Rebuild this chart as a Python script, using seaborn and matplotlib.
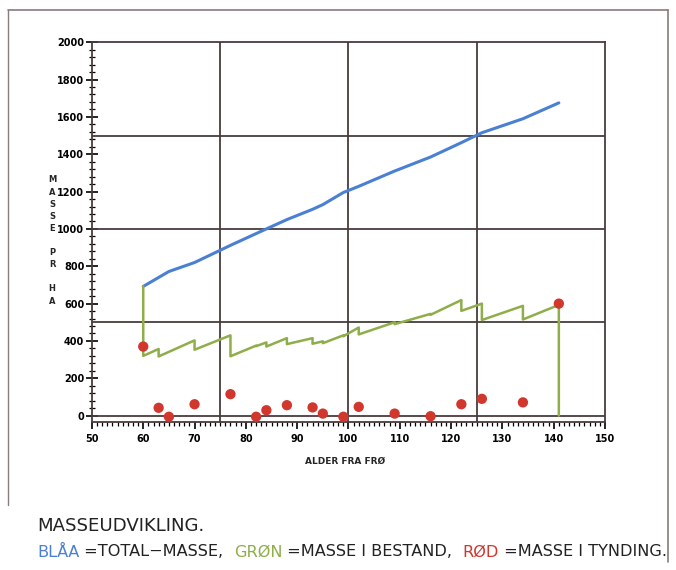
import pandas as pd
import seaborn as sns
import matplotlib.pyplot as plt
from matplotlib.ticker import MultipleLocator

# thinning ages and masses
ages = [60, 63, 65, 70, 77, 82, 84, 88, 93, 95, 99, 102, 109, 116, 122, 126, 134, 141]
total_mass = [692, 740, 772, 820, 912, 975, 1000, 1050, 1105, 1130, 1195, 1228,
              1310, 1385, 1462, 1515, 1590, 1675]
thin_mass = [370, 42, -6, 61, 115, -6, 29, 56, 44, 11, -6, 47, 11, -3, 61, 90, 71, 600]

# standing mass: sawtooth, value before and after each thinning
stand_age = [60, 60, 63, 63, 70, 70, 77, 77, 82, 82, 84, 84, 88, 88, 93, 93, 95, 95,
             99, 99, 102, 102, 109, 109, 116, 116, 122, 122, 126, 126, 134, 134, 141, 141]
stand_mass = [692, 320, 357, 317, 403, 353, 430, 318, 375, 372, 392, 370, 415, 383,
              415, 385, 398, 388, 430, 425, 472, 435, 500, 490, 545, 540, 619, 561,
              600, 512, 588, 515, 593, 0]

x_ticks = list(range(50, 151, 10))
y_ticks = list(range(0, 2001, 200))
grid_x = [75, 100, 125]
grid_y = [0, 500, 1000, 1500]

sns.set_style('white')
plt.rcParams['font.family'] = ['DejaVu Sans']

blue = '#4a80d4'
green = '#8fae4a'
red = '#d2372e'
ink = '#4a3c3c'
dark = '#222222'
W, H = 676, 570

fig = plt.figure(figsize=(6.76, 5.70), dpi=100)
fig.patch.set_facecolor('white')
ax = fig.add_axes([0.136, 0.26, 0.759, 0.666])

for gx in grid_x:
    ax.axvline(gx, color=ink, lw=1.3, zorder=1)
for gy in grid_y:
    ax.axhline(gy, color=ink, lw=1.3, zorder=1)

sns.lineplot(x=ages, y=total_mass, color=blue, lw=2.2, ax=ax, zorder=3)
sns.lineplot(x=stand_age, y=stand_mass, color=green, lw=1.8, sort=False,
             estimator=None, ax=ax, zorder=3)
sns.scatterplot(x=ages, y=thin_mass, color=red, s=55, edgecolor='none', ax=ax, zorder=4)

ax.set_xlim(50, 150)
ax.set_ylim(-33, 2000)
ax.set_xticks(x_ticks)
ax.set_yticks(y_ticks)
ax.xaxis.set_minor_locator(MultipleLocator(1))
ax.yaxis.set_minor_locator(MultipleLocator(40))
ax.tick_params(bottom=True, left=True, which='both')
ax.tick_params(axis='x', which='major', direction='out', length=5, width=1.2,
               labelsize=7, pad=4, colors='black')
ax.tick_params(axis='x', which='minor', direction='out', length=3, width=0.9,
               colors='black')
ax.tick_params(axis='y', which='major', direction='inout', length=9, width=1.2,
               labelsize=7, pad=1, colors='black')
ax.tick_params(axis='y', which='minor', direction='inout', length=5, width=0.9,
               colors='black')
for lab in ax.get_xticklabels() + ax.get_yticklabels():
    lab.set_fontweight('bold')
for sp in ax.spines.values():
    sp.set_color(ink)
    sp.set_linewidth(1.3)
ax.set_xlabel('')
ax.set_ylabel('')

fig.text(0.51, 0.19, 'ALDER FRA FRØ', ha='center', va='center',
         fontsize=6.5, fontweight='bold')

ylab = 'MASSE PR HA'
for i, ch in enumerate(ylab):
    if ch != ' ':
        fig.text(52 / W, 1 - (180 + i * 12.1) / H, ch, ha='center', va='center',
                 fontsize=6, fontweight='bold')

# outer page frame
fig.add_artist(plt.Line2D([8 / W, 668 / W], [1 - 10 / H, 1 - 10 / H],
                          color='#8a7a7a', lw=1.2))
fig.add_artist(plt.Line2D([8 / W, 8 / W], [1 - 10 / H, 1 - 505 / H],
                          color='#8a7a7a', lw=1.0))
fig.add_artist(plt.Line2D([668 / W, 668 / W], [1 - 10 / H, 1 - 562 / H],
                          color='#8a7a7a', lw=1.2))

# caption line 2, coloured pieces laid out one after another
pieces = ['BLÅA', ' =TOTAL−MASSE,  ', 'GRØN', ' =MASSE I BESTAND,  ', 'RØD', ' =MASSE I TYNDING.']
colors = [blue, dark, green, dark, red, dark]
x_left, x_right = 37, 664

fs = 12
fig.canvas.draw()
r = fig.canvas.get_renderer()
probe = fig.text(0, 0, ''.join(pieces), fontsize=fs)
full_w = probe.get_window_extent(renderer=r).width
probe.remove()
fs = fs * (x_right - x_left) / full_w

title = fig.text(x_left / W, 1 - 526 / H, 'MASSEUDVIKLING.', ha='left', va='center',
                 fontsize=fs, color=dark)
tw = title.get_window_extent(renderer=r).width
title.set_fontsize(fs * 168 / tw)

x = x_left
for txt, col in zip(pieces, colors):
    t = fig.text(x / W, 1 - 552 / H, txt, ha='left', va='center',
                 fontsize=fs, color=col)
    x += t.get_window_extent(renderer=r).width

fig.savefig('out.png', dpi=100)
